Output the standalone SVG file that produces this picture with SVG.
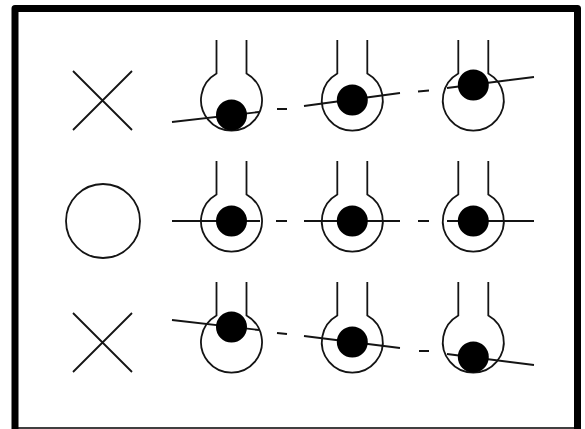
<svg xmlns="http://www.w3.org/2000/svg" width="585" height="429" viewBox="0 0 585 429">
<style>
.s{fill:none;stroke:#141414;stroke-width:1.8}
.l{fill:none;stroke:#141414;stroke-width:1.9}
.d{fill:#000}
</style>
<defs>
<path id="bulb" class="s" d="M-15 -60V-26.500A30.500 30.500 0 1 0 15 -26.500V-60"/>
</defs>
<rect width="585" height="429" fill="#fff"/>
<path id="frame" d="M15 429V8.500H577.500V429" fill="none" stroke="#000" stroke-width="7" stroke-linejoin="round"/>
<path d="M12 428H581" stroke="#000" stroke-width="1.500"/>
<g id="mark-x-top"><path class="s" d="M73 71L132 130M132 71L73 130"/></g>
<g id="mark-o"><circle class="s" cx="103" cy="221" r="37"/></g>
<g id="mark-x-bottom"><path class="s" d="M73 313L132 372M132 313L73 372"/></g>
<g id="connectors">
<path class="l" d="M172 122L259 112M277 109H287M304 106L400 93M418 91.500L429 90.500M447 88L534 77"/>
<path class="l" d="M172 221H260M276 221H287M304 221H400M418 221H429M447 221H534"/>
<path class="l" d="M172 320L259 330M277 333L287 334M304 336L400 348M419 351H429M447 354L534 365"/>
</g>
<g id="n11"><use href="#bulb" x="231.500" y="100"/><circle class="d" cx="231.500" cy="115" r="15.500"/></g>
<g id="n12"><use href="#bulb" x="352.300" y="100"/><circle class="d" cx="352.300" cy="100" r="15.500"/></g>
<g id="n13"><use href="#bulb" x="473.300" y="100"/><circle class="d" cx="473.300" cy="85" r="15.500"/></g>
<g id="n21"><use href="#bulb" x="231.500" y="221"/><circle class="d" cx="231.500" cy="221" r="15.500"/></g>
<g id="n22"><use href="#bulb" x="352.300" y="221"/><circle class="d" cx="352.300" cy="221" r="15.500"/></g>
<g id="n23"><use href="#bulb" x="473.300" y="221"/><circle class="d" cx="473.300" cy="221" r="15.500"/></g>
<g id="n31"><use href="#bulb" x="231.500" y="342"/><circle class="d" cx="231.500" cy="327" r="15.500"/></g>
<g id="n32"><use href="#bulb" x="352.300" y="342"/><circle class="d" cx="352.300" cy="342" r="15.500"/></g>
<g id="n33"><use href="#bulb" x="473.300" y="342"/><circle class="d" cx="473.300" cy="357" r="15.500"/></g>
</svg>
